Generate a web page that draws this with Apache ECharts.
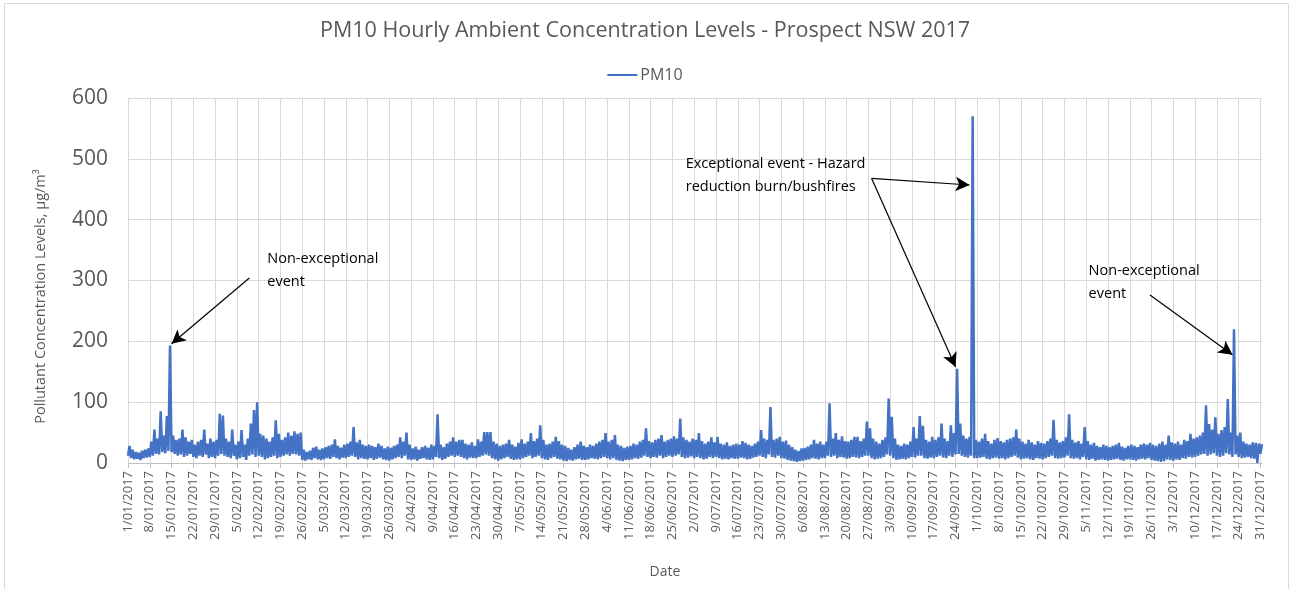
<!DOCTYPE html>
<html>
<head>
<meta charset="utf-8">
<title>PM10 Hourly Ambient Concentration Levels - Prospect NSW 2017</title>
<script src="https://cdn.jsdelivr.net/npm/echarts@6/dist/echarts.min.js"></script>
<style>
  html, body { margin: 0; padding: 0; background: #fff; }
  #chart { width: 1290px; height: 589px; }
</style>
</head>
<body>
<div id="chart"></div>
<script>
// daily low / high of the hourly PM10 trace (µg/m³), 1/01/2017 .. 31/12/2017, one row per week
const dayLow = [
  12, 8, 6, 7, 5, 8, 9,
  10, 12, 15, 14, 18, 16, 20,
  18, 15, 12, 14, 10, 12, 15,
  10, 8, 12, 10, 14, 8, 10,
  8, 12, 15, 12, 10, 8, 12,
  6, 8, 10, 5, 12, 14, 10,
  12, 10, 6, 8, 10, 12, 8,
  10, 12, 14, 12, 15, 14, 12,
  5, 4, 6, 5, 8, 6, 5,
  6, 8, 7, 10, 8, 6, 9,
  8, 10, 12, 10, 6, 8, 7,
  6, 8, 5, 7, 9, 6, 5,
  4, 6, 8, 10, 8, 12, 6,
  5, 6, 4, 7, 8, 6, 5,
  6, 10, 8, 5, 7, 10, 12,
  10, 12, 10, 8, 6, 9, 8,
  8, 10, 12, 14, 12, 8, 6,
  4, 6, 8, 10, 7, 5, 6,
  6, 8, 10, 12, 8, 10, 12,
  8, 6, 5, 8, 10, 7, 6,
  4, 3, 5, 4, 6, 7, 5,
  5, 6, 8, 7, 6, 8, 10,
  8, 6, 8, 5, 4, 3, 5,
  5, 6, 8, 7, 9, 12, 10,
  8, 10, 9, 12, 8, 10, 12,
  10, 12, 14, 10, 8, 9, 11,
  8, 10, 8, 6, 7, 10, 8,
  10, 8, 6, 7, 6, 8, 7,
  7, 9, 8, 6, 7, 9, 10,
  12, 10, 8, 14, 10, 9, 12,
  8, 7, 5, 4, 3, 2, 3,
  4, 5, 6, 8, 7, 6, 8,
  8, 12, 10, 12, 8, 10, 9,
  7, 8, 10, 9, 8, 10, 12,
  12, 8, 6, 7, 8, 10, 14,
  12, 8, 5, 6, 7, 6, 8,
  10, 9, 12, 12, 8, 7, 9,
  8, 10, 12, 9, 8, 12, 10,
  14, 15, 12, 10, 9, 12, 8,
  8, 9, 10, 7, 6, 8, 9,
  7, 8, 6, 8, 10, 12, 9,
  6, 7, 8, 6, 5, 8, 7,
  6, 8, 10, 12, 8, 7, 8,
  9, 12, 8, 7, 8, 6, 10,
  6, 5, 7, 4, 5, 6, 5,
  4, 5, 6, 7, 5, 4, 6,
  6, 5, 4, 6, 7, 6, 8,
  5, 4, 3, 2, 3, 6, 5,
  4, 6, 5, 8, 7, 10, 9,
  10, 12, 14, 15, 12, 14, 16,
  12, 10, 12, 16, 14, 10, 14,
  10, 8, 9, 10, 8, 7, 0,
  15
];
const dayHigh = [
  28, 22, 18, 17, 20, 22, 24,
  35, 55, 40, 85, 45, 77, 193,
  45, 38, 40, 55, 42, 35, 38,
  30, 35, 38, 55, 32, 40, 35,
  38, 81, 78, 40, 35, 55, 30,
  35, 54, 30, 40, 65, 87, 100,
  48, 45, 40, 35, 42, 70, 48,
  38, 42, 50, 45, 52, 48, 50,
  22, 18, 20, 25, 27, 22, 24,
  26, 28, 30, 39, 28, 25, 30,
  32, 35, 59, 34, 38, 30, 28,
  30, 28, 26, 32, 28, 24, 27,
  25, 28, 30, 42, 35, 50, 30,
  24, 27, 22, 26, 28, 25, 30,
  28, 80, 30, 26, 32, 35, 42,
  35, 38, 38, 32, 30, 34, 28,
  39, 35, 51, 51, 51, 35, 32,
  28, 30, 32, 38, 30, 27, 33,
  39, 32, 35, 49, 36, 40, 62,
  38, 30, 32, 35, 43, 36, 30,
  28, 25, 22, 26, 30, 35, 28,
  26, 30, 28, 32, 35, 38, 49,
  35, 38, 46, 30, 28, 25, 27,
  28, 32, 30, 35, 38, 57, 36,
  34, 38, 40, 46, 35, 38, 40,
  44, 40, 73, 42, 38, 35, 40,
  38, 49, 36, 32, 35, 42, 34,
  43, 32, 30, 34, 28, 30, 32,
  30, 36, 33, 30, 28, 32, 35,
  54, 40, 38, 92, 38, 40, 43,
  35, 37, 30, 26, 22, 20, 24,
  25, 27, 30, 38, 32, 35, 30,
  35, 98, 40, 49, 38, 44, 36,
  35, 38, 43, 43, 36, 40, 68,
  57, 40, 35, 32, 38, 42, 106,
  76, 40, 30, 28, 32, 30, 35,
  59, 40, 77, 61, 38, 35, 43,
  38, 42, 65, 40, 36, 62, 49,
  155, 65, 45, 40, 43, 570, 38,
  35, 40, 48, 36, 32, 38, 41,
  36, 34, 38, 40, 42, 55, 40,
  35, 32, 38, 34, 30, 36, 33,
  32, 36, 40, 71, 38, 34, 36,
  42, 80, 38, 34, 36, 32, 59,
  36, 30, 33, 28, 26, 30, 28,
  26, 28, 30, 33, 27, 25, 28,
  30, 28, 26, 30, 32, 30, 33,
  30, 28, 32, 35, 30, 45, 34,
  32, 35, 30, 38, 36, 48, 40,
  42, 45, 50, 95, 64, 55, 75,
  48, 54, 59, 105, 50, 220, 45,
  50, 35, 32, 30, 34, 33, 32,
  31
];
const yTicks = [0, 100, 200, 300, 400, 500, 600];

// annotations: [day, value] in data space
const notes = [
  { text: 'Non-exceptional\nevent', at: [43, 317] },
  { text: 'Exceptional event - Hazard\nreduction burn/bushfires', at: [177.5, 472] },
  { text: 'Non-exceptional\nevent', at: [307, 297] }
];
const arrows = [
  [[39, 304], [14, 196]],
  [[239, 468], [270.6, 457]],
  [[239, 468], [265.8, 158]],
  [[328.7, 276], [354.8, 178]]
];

// half-day categories: low at 00:00, high at 12:00
const categories = [];
const pm10 = [];
for (let d = 0; d < dayLow.length; d++) {
  const dt = new Date(2017, 0, 1 + d);
  const lbl = dt.getDate() + '/' + String(dt.getMonth() + 1).padStart(2, '0') + '/2017';
  categories.push(lbl + ' 00:00', lbl + ' 12:00');
  pm10.push(dayLow[d], dayHigh[d]);
}

const grey = '#595959';
const font = '"Open Sans", "Noto Sans", sans-serif';

const chart = echarts.init(document.getElementById('chart'));
chart.setOption({
  animation: false,
  textStyle: { fontFamily: font },
  title: {
    text: 'PM10 Hourly Ambient Concentration Levels - Prospect NSW 2017',
    left: 'center',
    top: 15,
    textStyle: { color: grey, fontSize: 21.5, fontWeight: 'normal', fontFamily: font }
  },
  legend: {
    top: 62,
    left: 'center',
    icon: 'rect',
    itemWidth: 30,
    itemHeight: 2,
    itemGap: 10,
    textStyle: { color: grey, fontSize: 16, fontFamily: font, padding: [0, 0, 0, -2] },
    data: ['PM10']
  },
  grid: { left: 128, right: 28, top: 98, bottom: 126, containLabel: false },
  xAxis: {
    type: 'category',
    boundaryGap: false,
    data: categories,
    name: 'Date',
    nameLocation: 'middle',
    nameGap: 102,
    nameTextStyle: { color: grey, fontSize: 14, fontFamily: font, padding: [0, 60, 0, 0] },
    axisLine: { lineStyle: { color: '#bfbfbf', width: 1 } },
    axisTick: { show: true, interval: 13, length: 5, lineStyle: { color: '#bfbfbf' } },
    axisLabel: {
      interval: 13,
      rotate: 90,
      margin: 8,
      color: grey,
      fontSize: 13,
      fontFamily: font,
      formatter: v => v.split(' ')[0]
    },
    splitLine: { show: true, interval: 13, lineStyle: { color: '#d9d9d9', width: 1 } }
  },
  yAxis: {
    type: 'value',
    min: yTicks[0],
    max: yTicks[yTicks.length - 1],
    interval: 100,
    name: 'Pollutant Concentration Levels, µg/m³',
    nameLocation: 'middle',
    nameGap: 80,
    nameTextStyle: { color: grey, fontSize: 14.5, fontFamily: font, padding: [0, 32, 0, 0] },
    axisLine: { show: false },
    axisTick: { show: false },
    axisLabel: { color: grey, fontSize: 21, margin: 20, fontFamily: font },
    splitLine: { lineStyle: { color: '#d9d9d9', width: 1 } }
  },
  series: [{
    name: 'PM10',
    type: 'line',
    data: pm10,
    symbol: 'none',
    color: '#4472C4',
    lineStyle: { color: '#4472C4', width: 2.5 },
    markLine: {
      silent: true,
      symbol: ['none', 'arrow'],
      symbolSize: [11, 14],
      lineStyle: { color: '#000', width: 1.2, type: 'solid' },
      label: { show: false },
      data: arrows.map(a => [
        { coord: [Math.round(a[0][0] * 2), a[0][1]] },
        { coord: [Math.round(a[1][0] * 2), a[1][1]] }
      ])
    },
    markPoint: {
      silent: true,
      symbol: 'circle',
      symbolSize: 1,
      itemStyle: { color: 'transparent' },
      label: {
        show: true,
        position: 'right',
        distance: 5,
        color: '#000',
        fontSize: 14.5,
        lineHeight: 23,
        fontFamily: font,
        formatter: p => p.data.text
      },
      data: notes.map(n => ({ text: n.text, coord: [Math.round(n.at[0] * 2), n.at[1]] }))
    }
  }],
  graphic: [{
    type: 'rect',
    silent: true,
    shape: { x: 4.5, y: 3.5, width: 1284, height: 600 },
    style: { fill: 'none', stroke: '#d9d9d9', lineWidth: 1 }
  }]
});
</script>
</body>
</html>
